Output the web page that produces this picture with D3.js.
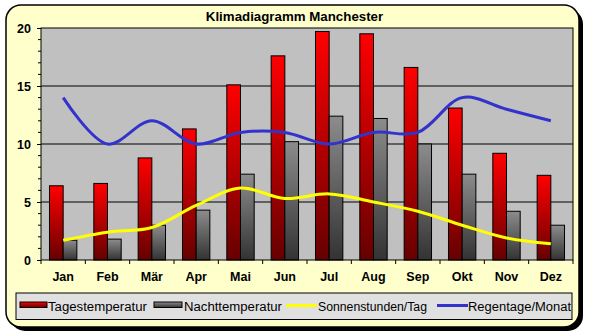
<!DOCTYPE html>
<html>
<head>
<meta charset="utf-8">
<script src="https://cdn.jsdelivr.net/npm/d3@7"></script>
<style>
  html, body { margin: 0; padding: 0; background: #ffffff; }
  svg { display: block; font-family: "Liberation Sans", Arial, sans-serif; }
</style>
</head>
<body>
<svg id="chart" width="589" height="336"></svg>
<script>
// Klimadaten Manchester
const months = ["Jan", "Feb", "Mär", "Apr", "Mai", "Jun", "Jul", "Aug", "Sep", "Okt", "Nov", "Dez"];
const tagestemperatur = [6.4, 6.6, 8.8, 11.3, 15.1, 17.6, 19.7, 19.5, 16.6, 13.1, 9.2, 7.3];
const nachttemperatur = [1.7, 1.8, 3.0, 4.3, 7.4, 10.2, 12.4, 12.2, 10.0, 7.4, 4.2, 3.0];
const sonnenstunden = [1.7, 2.4, 2.8, 4.7, 6.2, 5.3, 5.7, 5.0, 4.2, 3.0, 1.9, 1.4];
const regentage = [14, 10, 12, 10, 11, 11, 10, 11, 11, 14, 13, 12];
const yTicks = [0, 5, 10, 15, 20];
const legendLabels = ["Tagestemperatur", "Nachttemperatur", "Sonnenstunden/Tag", "Regentage/Monat"];

const svg = d3.select("#chart");
const defs = svg.append("defs");

function vGrad(id, top, bottom) {
  const g = defs.append("linearGradient").attr("id", id)
    .attr("x1", 0).attr("y1", 0).attr("x2", 0).attr("y2", 1);
  g.append("stop").attr("offset", "0%").attr("stop-color", top);
  g.append("stop").attr("offset", "100%").attr("stop-color", bottom);
}
vGrad("gradRed", "#ff0000", "#660000");
vGrad("gradGrey", "#8c8c8c", "#333333");

// Rahmen mit Schatten
const frame = { x: 6, y: 5, w: 573, h: 322, r: 15 };
svg.append("rect").attr("x", frame.x + 4).attr("y", frame.y + 4)
  .attr("width", frame.w).attr("height", frame.h).attr("rx", frame.r)
  .attr("fill", "#000");
svg.append("rect").attr("x", frame.x).attr("y", frame.y)
  .attr("width", frame.w).attr("height", frame.h).attr("rx", frame.r)
  .attr("fill", "#ffffcc").attr("stroke", "#000").attr("stroke-width", 1.5);

// Titel
svg.append("text").attr("x", 294.5).attr("y", 21).attr("text-anchor", "middle")
  .attr("font-size", 13.3).attr("font-weight", "bold").text("Klimadiagramm Manchester");

// Zeichenfläche
const plot = { left: 41, right: 573, top: 28, bottom: 260 };
const x = d3.scaleBand().domain(months).range([plot.left, plot.right]).padding(0);
const y = d3.scaleLinear().domain([0, 20]).range([plot.bottom, plot.top]);

svg.append("rect").attr("x", plot.left).attr("y", plot.top)
  .attr("width", plot.right - plot.left).attr("height", plot.bottom - plot.top)
  .attr("fill", "#c0c0c0");

// Gitterlinien
svg.append("g").selectAll("line").data(yTicks.filter(d => d > 0 && d < 20)).join("line")
  .attr("x1", plot.left).attr("x2", plot.right)
  .attr("y1", d => y(d)).attr("y2", d => y(d))
  .attr("stroke", "#000").attr("stroke-width", 1);

// Balken
const inner = d3.scaleBand().domain([0, 1]).range([0, x.bandwidth()]).paddingOuter(0.62).paddingInner(0);
svg.append("g").selectAll("rect").data(tagestemperatur).join("rect")
  .attr("x", (d, i) => x(months[i]) + inner(0))
  .attr("width", inner.bandwidth())
  .attr("y", d => y(d)).attr("height", d => y(0) - y(d))
  .attr("fill", "url(#gradRed)").attr("stroke", "#000").attr("stroke-width", 1);
svg.append("g").selectAll("rect").data(nachttemperatur).join("rect")
  .attr("x", (d, i) => x(months[i]) + inner(1))
  .attr("width", inner.bandwidth())
  .attr("y", d => y(d)).attr("height", d => y(0) - y(d))
  .attr("fill", "url(#gradGrey)").attr("stroke", "#000").attr("stroke-width", 1);

// Linien
const line = d3.line()
  .x((d, i) => x(months[i]) + x.bandwidth() / 2)
  .y(d => y(d))
  .curve(d3.curveCatmullRom.alpha(0.5));
svg.append("path").datum(sonnenstunden).attr("d", line)
  .attr("fill", "none").attr("stroke", "#ffff00").attr("stroke-width", 3);
svg.append("path").datum(regentage).attr("d", line)
  .attr("fill", "none").attr("stroke", "#3333cc").attr("stroke-width", 3);

// Rand der Zeichenfläche
svg.append("rect").attr("x", plot.left).attr("y", plot.top)
  .attr("width", plot.right - plot.left).attr("height", plot.bottom - plot.top)
  .attr("fill", "none").attr("stroke", "#000").attr("stroke-width", 1);

// Y-Achse
const yAxis = d3.axisLeft(y).tickValues(yTicks).tickSize(4).tickPadding(6);
const gy = svg.append("g").attr("transform", `translate(${plot.left},0)`).call(yAxis);
gy.select(".domain").remove();
gy.selectAll("text").attr("font-size", 12.5).attr("font-weight", "bold")
  .attr("font-family", "'Liberation Sans', Arial, sans-serif").attr("fill", "#000");
const minor = d3.range(0, 21).filter(d => d % 5 !== 0);
svg.append("g").selectAll("line").data(minor).join("line")
  .attr("x1", plot.left - 3).attr("x2", plot.left)
  .attr("y1", d => y(d)).attr("y2", d => y(d)).attr("stroke", "#000");

// X-Achse
const gx = svg.append("g").attr("transform", `translate(0,${plot.bottom})`)
  .call(d3.axisBottom(x).tickSize(0).tickPadding(12));
gx.select(".domain").remove();
gx.selectAll("text").attr("font-size", 12.5).attr("font-weight", "bold")
  .attr("font-family", "'Liberation Sans', Arial, sans-serif").attr("fill", "#000");
svg.append("g").selectAll("line").data(d3.range(months.length + 1)).join("line")
  .attr("x1", i => plot.left + i * x.step()).attr("x2", i => plot.left + i * x.step())
  .attr("y1", plot.bottom).attr("y2", plot.bottom + 4).attr("stroke", "#000");

// Legende
const lg = svg.append("g");
lg.append("rect").attr("x", 16).attr("y", 293).attr("width", 556).attr("height", 26.5)
  .attr("fill", "#e0e0e0").attr("stroke", "#000");
const clip = defs.append("clipPath").attr("id", "legClip");
clip.append("rect").attr("x", 16).attr("y", 293).attr("width", 555.5).attr("height", 26.5);
const items = lg.append("g").attr("clip-path", "url(#legClip)");
const legendKeyX = [20, 154, 286, 437];
const legendKeyW = [27, 28, 31, 31];
const legendTextX = [48, 184, 318, 468];
const legendTextW = [99, 98, 109, 103];
const legendKind = ["red", "grey", "yellow", "blue"];
legendLabels.forEach((label, i) => {
  const x0 = legendKeyX[i];
  const k = legendKind[i];
  if (k === "red" || k === "grey") {
    items.append("rect").attr("x", x0).attr("y", 302).attr("width", legendKeyW[i]).attr("height", 5.5)
      .attr("fill", k === "red" ? "url(#gradRed)" : "url(#gradGrey)").attr("stroke", "#000");
  } else {
    items.append("line").attr("x1", x0).attr("x2", x0 + legendKeyW[i]).attr("y1", 305.5).attr("y2", 305.5)
      .attr("stroke", k === "yellow" ? "#ffff00" : "#3333cc").attr("stroke-width", 3);
  }
  items.append("text").attr("x", legendTextX[i]).attr("y", 310.5).attr("font-size", 12.5)
    .attr("textLength", legendTextW[i]).attr("lengthAdjust", "spacingAndGlyphs")
    .attr("fill", "#000").text(label);
});
</script>
</body>
</html>
